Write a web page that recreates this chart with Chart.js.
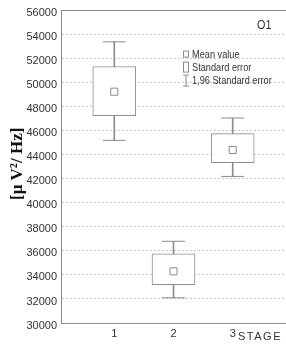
<!DOCTYPE html>
<html>
<head>
<meta charset="utf-8">
<script src="https://cdn.jsdelivr.net/npm/chart.js@4/dist/chart.umd.min.js"></script>
<style>
html,body{margin:0;padding:0;background:#fff;}
#wrap{width:286px;height:344px;position:relative;}
</style>
</head>
<body>
<div id="wrap"><canvas id="c" width="286" height="344"></canvas></div>
<script>
// ---- data ----
const stages      = [1, 2, 3];
const tickLabels  = ['1', '2', '3'];
const meanValue   = [49250, 34300, 44400];
const seLow       = [47250, 33200, 43350];
const seHigh      = [51350, 35750, 45760];
const ciLow       = [45200, 32100, 42200];
const ciHigh      = [53400, 36800, 47060];
const yTicks      = [30000,32000,34000,36000,38000,40000,42000,44000,46000,48000,50000,52000,54000,56000];
const legendItems = ['Mean value', 'Standard error', '1,96 Standard error'];
const panelLabel  = 'O1';
const xTitle      = 'STAGE';
const yTitle      = '[μ V²/ Hz]';

const GRAY = '#8c8c8c';
const TXT = '#333333';

function narrowText(ctx, t, x, y, sx) {
  ctx.save();
  ctx.translate(x, y);
  ctx.scale(sx, 1);
  ctx.fillText(t, 0, 0);
  ctx.restore();
}

const overlay = {
  id: 'overlay',
  afterDraw(chart) {
    const {ctx, chartArea: a} = chart;
    ctx.save();
    // y title
    ctx.save();
    ctx.translate(18, (a.top + a.bottom) / 2 - 3);
    ctx.rotate(-Math.PI / 2);
    ctx.fillStyle = '#111';
    ctx.font = 'bold 17px "Liberation Serif", "Times New Roman", serif';
    ctx.textAlign = 'center';
    ctx.textBaseline = 'middle';
    ctx.fillText(yTitle, 0, 0);
    ctx.restore();
    // panel label
    ctx.fillStyle = TXT;
    ctx.font = '12px "Liberation Sans", Arial, sans-serif';
    ctx.textAlign = 'left';
    ctx.textBaseline = 'middle';
    narrowText(ctx, panelLabel, a.left + 196, a.top + 15, 0.9);
    // legend
    const lx = a.left + 122, ly = a.top + 44, gap = 13;
    ctx.font = '11.5px "Liberation Sans", Arial, sans-serif';
    ctx.strokeStyle = GRAY;
    ctx.lineWidth = 1;
    legendItems.forEach((t, i) => {
      const y = ly + i * gap;
      ctx.fillStyle = TXT;
      narrowText(ctx, t, lx + 9, y, 0.8);
      if (i === 0) {
        ctx.strokeRect(lx + 0.5, y - 3.5, 5, 6);
      } else if (i === 1) {
        ctx.strokeRect(lx + 0.5, y - 5.5, 5, 10);
      } else {
        ctx.beginPath();
        ctx.moveTo(lx, y - 5.5); ctx.lineTo(lx + 6, y - 5.5);
        ctx.moveTo(lx + 3, y - 5.5); ctx.lineTo(lx + 3, y + 5.5);
        ctx.moveTo(lx, y + 5.5); ctx.lineTo(lx + 6, y + 5.5);
        ctx.stroke();
      }
    });
    // x title
    ctx.fillStyle = TXT;
    ctx.font = '11px "Liberation Sans", Arial, sans-serif';
    ctx.letterSpacing = '1.5px';
    ctx.textAlign = 'right';
    ctx.textBaseline = 'alphabetic';
    ctx.fillText(xTitle, a.left + 221, a.bottom + 17);
    ctx.restore();
  }
};

const zeroPad = s => { s.paddingLeft = 0; s.paddingRight = 0; };

new Chart(document.getElementById('c'), {
  type: 'bar',
  data: {
    datasets: [
      {
        type: 'bar', order: 4, grouped: false,
        data: stages.map((s, i) => ({x: s, y: [ciLow[i], ciHigh[i]]})),
        barThickness: 1, backgroundColor: GRAY, borderWidth: 0
      },
      {
        type: 'bar', order: 3, grouped: false,
        data: stages.map((s, i) => ({x: s, y: [seLow[i], seHigh[i]]})),
        barThickness: 43, backgroundColor: '#ffffff', borderColor: GRAY,
        borderWidth: 1, borderSkipped: false
      },
      {
        type: 'line', order: 2, showLine: false,
        data: stages.flatMap((s, i) => [{x: s, y: ciLow[i]}, {x: s, y: ciHigh[i]}]),
        pointStyle: 'line', pointRadius: 11.5, borderColor: GRAY, borderWidth: 1
      },
      {
        type: 'line', order: 1, showLine: false,
        data: stages.map((s, i) => ({x: s, y: meanValue[i]})),
        pointStyle: 'rect', pointRadius: 5, pointBorderWidth: 1,
        pointBackgroundColor: '#ffffff', pointBorderColor: GRAY
      }
    ]
  },
  plugins: [overlay],
  options: {
    responsive: false,
    animation: false,
    events: [],
    layout: {padding: 0, autoPadding: false},
    plugins: {legend: {display: false}, tooltip: {enabled: false}},
    scales: {
      x: {
        type: 'linear', position: 'bottom', min: 0.1, max: 3.9, offset: false,
        afterFit: s => { s.height = 21; zeroPad(s); },
        afterBuildTicks: s => { s.ticks = stages.map(v => ({value: v})); },
        grid: {display: false, offset: false, drawTicks: false, tickLength: 0},
        border: {color: GRAY, width: 1},
        ticks: {
          padding: 4, color: TXT, maxRotation: 0,
          font: {family: '"Liberation Sans", Arial, sans-serif', size: 11},
          callback: (v) => tickLabels[stages.indexOf(v)] ?? ''
        }
      },
      x2: {
        type: 'linear', position: 'top', min: 0.1, max: 3.9, offset: false,
        afterFit: s => { s.height = 7; zeroPad(s); },
        grid: {display: false, drawTicks: false},
        border: {color: GRAY, width: 1},
        ticks: {display: false}
      },
      y: {
        type: 'linear', min: 30000, max: 56000,
        afterFit: s => { s.width = 61; },
        afterBuildTicks: s => { s.ticks = yTicks.map(v => ({value: v})); },
        grid: {color: '#c8c8c8', lineWidth: 1, drawTicks: false},
        border: {color: GRAY, width: 1, dash: [2, 2]},
        ticks: {
          padding: 4, color: TXT, labelOffset: 2.5,
          font: {family: '"Liberation Sans", Arial, sans-serif', size: 11},
          callback: v => String(v)
        },
        title: {display: false}
      }
    }
  }
});
</script>
</body>
</html>
